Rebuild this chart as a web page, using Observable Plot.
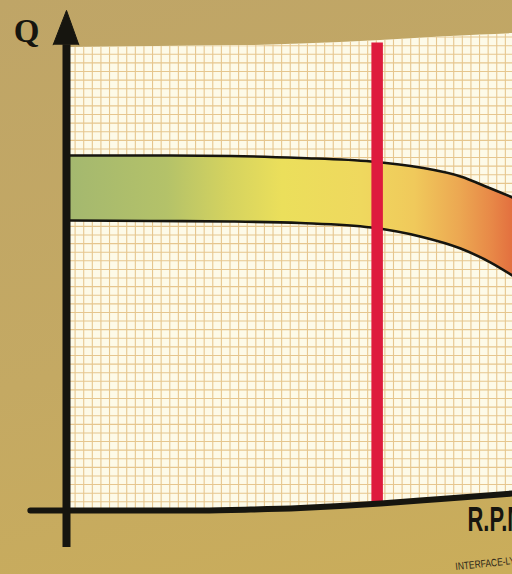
<!DOCTYPE html>
<html>
<head>
<meta charset="utf-8">
<script src="https://cdn.jsdelivr.net/npm/d3@7"></script>
<script src="https://cdn.jsdelivr.net/npm/@observablehq/plot@0.6"></script>
<style>
  html, body { margin: 0; padding: 0; background: #c4a964; overflow: hidden; }
</style>
</head>
<body>
<div id="chart"></div>
<script>
// --- Data (chart units: one unit = one graph-paper cell) ---
// paper sheet edges (bottom edge = R.P.M. axis line)
const edgeX       = [0.4, 15.6, 21.4, 27.2, 31.8, 36.5, 43.5, 48.1, 51.83];
const paperTop    = [53.79, 53.96, 54.02, 54.19, 54.37, 54.60, 55.01, 55.24, 55.41];
const paperBottom = [0, 0, 0.10, 0.28, 0.51, 0.80, 1.32, 1.67, 1.96];
// R.P.M axis line (starts left of the Q axis)
const rpmAxisX = [-4.2, ...edgeX];
const rpmAxisY = [0, ...paperBottom];
// Q axis
const qAxisBottom = -4.31;
const qAxisTop = 54.1;
const arrowX = [-1.55, 0, 1.43];
const arrowY = [54.1, 58.1, 54.1];
// performance band
const bandX     = [0.4, 9.8, 19.1, 27.2, 35.4, 41.1, 45.8, 49.3, 51.83];
const bandUpper = [41.24, 41.24, 41.18, 40.95, 40.54, 39.84, 38.80, 37.40, 36.36];
const bandLower = [33.68, 33.63, 33.57, 33.39, 32.87, 31.83, 30.43, 28.80, 27.29];
// operating speed (red line)
const redX = [36.1];
const redTop = 54.3;
// graph paper grid
const gridXTicks = d3.range(1, 52);
const gridYTicks = d3.range(1, 56);
// labels
const labels = ["Q", "R.P.M", "INTERFACE-LY"];
const labelX = [-4.65, 46.6, 45.2];
const labelY = [55.65, -1.06, -6.55];

const paper = edgeX.map((x, i) => ({x, top: paperTop[i], bottom: paperBottom[i]}));
const band = bandX.map((x, i) => ({x, up: bandUpper[i], lo: bandLower[i]}));
const rpmLine = rpmAxisX.map((x, i) => ({x, y: rpmAxisY[i]}));
const arrow = arrowX.map((x, i) => ({x, y: arrowY[i]}));

const ink = "#16150f";

const svg = Plot.plot({
  width: 512,
  height: 574,
  margin: 0,
  x: {domain: [-7.67, 51.83], axis: null},
  y: {domain: [-7.45, 59.25], axis: null},
  style: {background: "linear-gradient(165deg, #bfa567 0%, #c4a963 55%, #caad5a 100%)", overflow: "hidden"},
  marks: [
    // paper sheet
    Plot.areaY(paper, {x: "x", y1: "bottom", y2: "top", fill: "#fdfae8", curve: "monotone-x"}),
    // grid
    Plot.ruleX(gridXTicks, {x: d => d, stroke: "#e6c68e", strokeWidth: 1.1}),
    Plot.ruleY(gridYTicks, {y: d => d, stroke: "#e6c68e", strokeWidth: 1.1}),
    // band
    Plot.areaY(band, {x: "x", y1: "lo", y2: "up", fill: "url(#bandGrad)", curve: "monotone-x"}),
    Plot.line(band, {x: "x", y: "up", stroke: ink, strokeWidth: 2.6, curve: "monotone-x"}),
    Plot.line(band, {x: "x", y: "lo", stroke: ink, strokeWidth: 2.6, curve: "monotone-x"}),
    // red operating line
    Plot.ruleX(redX, {x: d => d, y1: 0.5, y2: redTop, stroke: "#de1b3d", strokeWidth: 11.5}),
    // axes
    Plot.line(rpmLine, {x: "x", y: "y", stroke: ink, strokeWidth: 6, curve: "monotone-x"}),
    Plot.ruleX([0], {x: d => d, y1: qAxisBottom, y2: qAxisTop, stroke: ink, strokeWidth: 8}),
    Plot.line(arrow, {x: "x", y: "y", fill: ink, stroke: ink, strokeWidth: 1}),
    // labels
    Plot.text([labels[0]], {x: [labelX[0]], y: [labelY[0]], text: d => d, fontFamily: "Liberation Serif, DejaVu Serif, serif", fontWeight: "bold", fontSize: 33, fill: ink}),
    Plot.text([labels[1]], {x: [labelX[1]], y: [labelY[1]], text: d => d, textAnchor: "start", fontFamily: "'Liberation Sans', Arial, sans-serif", fontWeight: "bold", fontSize: 35, fill: ink}),
    Plot.text([labels[2]], {x: [labelX[2]], y: [labelY[2]], text: d => d, textAnchor: "start", rotate: -6, fontFamily: "'Liberation Sans', Arial, sans-serif", fontSize: 10.5, fill: "#2a2618"})
  ]
});

const s = d3.select(svg);
const defs = s.insert("defs", ":first-child");
const g = defs.append("linearGradient").attr("id", "bandGrad").attr("x1", 0).attr("x2", 1).attr("y1", 0).attr("y2", 0);
[[0, "#a4b86f"], [0.22, "#b4c269"], [0.36, "#d5d35f"], [0.48, "#ebdf5b"], [0.66, "#efd85e"], [0.78, "#f0c95b"], [0.88, "#eca852"], [0.95, "#e88a48"], [1, "#e3703f"]]
  .forEach(([o, c]) => g.append("stop").attr("offset", o).attr("stop-color", c));
const areas = s.selectAll('g[aria-label="area"] path').nodes();
defs.append("clipPath").attr("id", "paperClip").append("path").attr("d", areas[0].getAttribute("d"));
const rules = s.selectAll('g[aria-label="rule"]').nodes();
d3.select(rules[0]).attr("clip-path", "url(#paperClip)");
d3.select(rules[1]).attr("clip-path", "url(#paperClip)");
// condensed lettering as on the original print
const texts = s.selectAll('g[aria-label="text"] text').nodes();
d3.select(texts[1]).attr("textLength", 58).attr("lengthAdjust", "spacingAndGlyphs");
d3.select(texts[2]).attr("textLength", 60).attr("lengthAdjust", "spacingAndGlyphs");

document.getElementById("chart").appendChild(svg);
</script>
</body>
</html>
